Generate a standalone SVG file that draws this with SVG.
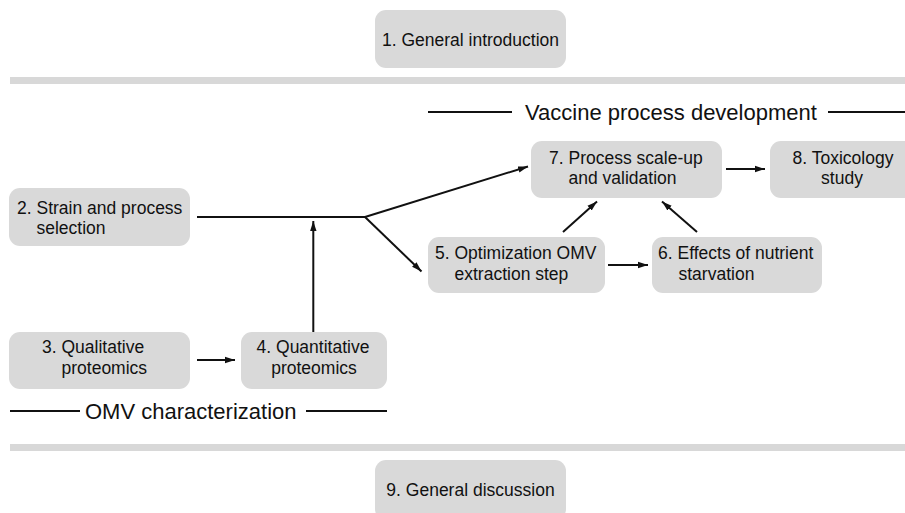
<svg xmlns="http://www.w3.org/2000/svg" width="905" height="513" viewBox="0 0 905 513">
<style>
  .box { fill: #d9d9d9; }
  .bar { fill: #d8d8d8; }
  .t { font-family: "Liberation Sans", Arial, sans-serif; font-size: 17.5px; fill: #111; }
  .h { font-family: "Liberation Sans", Arial, sans-serif; font-size: 22px; fill: #111; }
  .c { text-anchor: middle; }
  .ln { stroke: #111; stroke-width: 2; fill: none; }
  .arr { stroke: #111; stroke-width: 2; fill: none; marker-end: url(#ah); }
</style>
<defs>
  <marker id="ah" markerUnits="userSpaceOnUse" markerWidth="10" markerHeight="8" refX="10" refY="4" orient="auto">
    <path d="M0,0.8 L10,4 L0,7.2 z" fill="#111"/>
  </marker>
</defs>
<rect width="905" height="513" fill="#ffffff"/>

<rect class="bar" x="10" y="77" width="895" height="7"/>
<rect class="bar" x="10" y="444" width="895" height="7"/>

<g id="section-vaccine">
  <line class="ln" x1="428" y1="112" x2="512" y2="112"/>
  <text class="h" x="525" y="119.5">Vaccine process development</text>
  <line class="ln" x1="828" y1="112" x2="905" y2="112"/>
</g>
<g id="section-omv">
  <line class="ln" x1="10" y1="411" x2="80" y2="411"/>
  <text class="h" x="85" y="418.5">OMV characterization</text>
  <line class="ln" x1="306" y1="411" x2="387" y2="411"/>
</g>

<g id="n1">
  <rect class="box" x="375" y="10" width="191" height="58" rx="11"/>
  <text class="t c" x="470.5" y="45.5">1. General introduction</text>
</g>
<g id="n2">
  <rect class="box" x="9" y="188" width="181" height="58" rx="11"/>
  <text class="t" x="17" y="213.5">2. Strain and process</text>
  <text class="t" x="36.5" y="234">selection</text>
</g>
<g id="n3">
  <rect class="box" x="9" y="332" width="181" height="57" rx="11"/>
  <text class="t" x="42" y="353">3. Qualitative</text>
  <text class="t" x="61.5" y="374">proteomics</text>
</g>
<g id="n4">
  <rect class="box" x="241" y="332" width="146" height="57" rx="11"/>
  <text class="t c" x="313" y="353">4. Quantitative</text>
  <text class="t c" x="314" y="374">proteomics</text>
</g>
<g id="n5">
  <rect class="box" x="428" y="237" width="177" height="56" rx="11"/>
  <text class="t" x="435" y="258.5">5. Optimization OMV</text>
  <text class="t" x="454.5" y="279.5">extraction step</text>
</g>
<g id="n6">
  <rect class="box" x="652" y="237" width="170" height="56" rx="11"/>
  <text class="t" x="658" y="258.5">6. Effects of nutrient</text>
  <text class="t" x="678.5" y="279.5">starvation</text>
</g>
<g id="n7">
  <rect class="box" x="531" y="141" width="191" height="57" rx="11"/>
  <text class="t" x="549" y="163.5">7. Process scale-up</text>
  <text class="t" x="568.5" y="184">and validation</text>
</g>
<g id="n8">
  <rect class="box" x="770" y="141" width="150" height="57" rx="11"/>
  <text class="t c" x="843" y="163.5">8. Toxicology</text>
  <text class="t c" x="842" y="184">study</text>
</g>
<g id="n9">
  <rect class="box" x="375" y="460" width="191" height="60" rx="11"/>
  <text class="t c" x="470.5" y="495.5">9. General discussion</text>
</g>

<g id="connectors">
  <line class="ln" x1="197" y1="217" x2="365" y2="217"/>
  <line class="arr" x1="365" y1="217" x2="528" y2="166.5"/>
  <line class="arr" x1="365" y1="217" x2="421.5" y2="271.5"/>
  <line class="arr" x1="313.3" y1="332" x2="313.3" y2="221"/>
  <line class="arr" x1="197" y1="360" x2="235" y2="360"/>
  <line class="arr" x1="608" y1="265" x2="648" y2="265"/>
  <line class="arr" x1="563" y1="232" x2="597" y2="201.5"/>
  <line class="arr" x1="697" y1="232" x2="662" y2="201.5"/>
  <line class="arr" x1="726" y1="169" x2="765" y2="169"/>
</g>
</svg>
